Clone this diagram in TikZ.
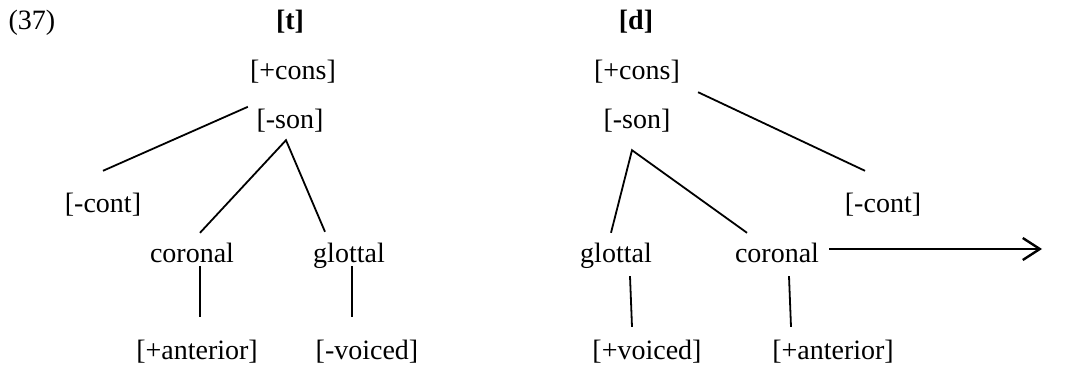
\documentclass[tikz,border=0pt]{standalone}
\usepackage{fontspec}
\setmainfont{Liberation Serif}
\usetikzlibrary{arrows.meta}
\begin{document}
\begin{tikzpicture}[x=1pt,y=-1pt,
  feat/.style={anchor=base,inner sep=0pt,text height=20pt,text depth=5pt,font=\fontsize{28}{32}\selectfont},
  conn/.style={line width=1.8pt},
  arr/.style={line width=2.4pt,-{Straight Barb[length=17pt,width=22pt,line width=2.4pt]}}]
\useasboundingbox (0,0) rectangle (1076,367);
% titles
\node[feat] (num) at (32,29) {(37)};
\node[feat,font=\fontsize{28}{32}\selectfont\bfseries] (tt) at (290,29) {[t]};
\node[feat,font=\fontsize{28}{32}\selectfont\bfseries] (dd) at (636,29) {[d]};
% left tree
\node[feat] (consL) at (293,79) {[+cons]};
\node[feat] (sonL) at (290,128) {[-son]};
\node[feat] (contL) at (103,212) {[-cont]};
\node[feat] (corL) at (192,262) {coronal};
\node[feat] (glL) at (349,262) {glottal};
\node[feat] (antL) at (197,359) {[+anterior]};
\node[feat] (voiL) at (367,359) {[-voiced]};
\draw[conn] ([shift={(-8.5,-1)}]sonL.north west) -- ([shift={(0,-21)}]contL.north);
\draw[conn] ([shift={(8,-9)}]corL.north) -- ([shift={(-4,7)}]sonL.south) -- ([shift={(-24,-10)}]glL.north);
\draw[conn] ([shift={(8,-1)}]corL.south) -- ([shift={(3,-22)}]antL.north);
\draw[conn] ([shift={(3,-1)}]glL.south) -- ([shift={(-15,-22)}]voiL.north);
% right tree
\node[feat] (consR) at (637,79) {[+cons]};
\node[feat] (sonR) at (637,128) {[-son]};
\node[feat] (contR) at (883,212) {[-cont]};
\node[feat] (glR) at (616,262) {glottal};
\node[feat] (corR) at (777,262) {coronal};
\node[feat] (voiR) at (647,359) {[+voiced]};
\node[feat] (antR) at (833,359) {[+anterior]};
\coordinate (arrend) at (1042,249);
\draw[conn] ([shift={(18,8)}]consR.south east) -- ([shift={(-18,-21)}]contR.north);
\draw[conn] ([shift={(-5,-9)}]glR.north) -- ([shift={(-5,17)}]sonR.south) -- ([shift={(-30,-9)}]corR.north);
\draw[conn] ([shift={(14,9)}]glR.south) -- ([shift={(-15,-12)}]voiR.north);
\draw[conn] ([shift={(12,9)}]corR.south) -- ([shift={(-42,-12)}]antR.north);
\draw[arr] ([shift={(10,-5.5)}]corR.east) -- (arrend);
\end{tikzpicture}
\end{document}
